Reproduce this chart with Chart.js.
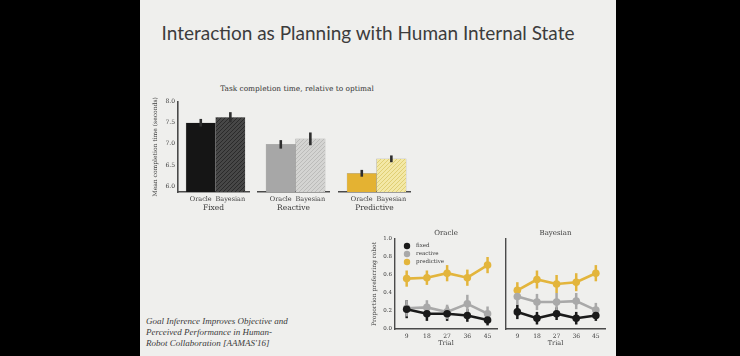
<!DOCTYPE html>
<html>
<head>
<meta charset="utf-8">
<script src="https://cdn.jsdelivr.net/npm/chart.js@4/dist/chart.umd.min.js"></script>
<style>
  html, body { margin:0; padding:0; background:#000; width:740px; height:356px; overflow:hidden; }
  #slide { position:absolute; left:140px; top:0; width:476px; height:356px; background:#efefed; }
  .abs { position:absolute; }
  #title { left:130px; width:476px; top:21px; text-align:center; font-family:'Lato', sans-serif; font-size:19px; color:#3c3c3c; white-space:nowrap; }
  #subtitle { left:180px; width:234px; top:84px; text-align:center; font-family:'DejaVu Serif', serif; font-size:7.4px; color:#333; white-space:nowrap; }
  #cite { left:146px; top:316px; font-family:'Liberation Serif', serif; font-style:italic; font-size:9px; line-height:11px; color:#3a3a3a; }
  canvas { position:absolute; }
</style>
</head>
<body>
<div id="slide"></div>
<div id="title" class="abs">Interaction as Planning with Human Internal State</div>
<div id="subtitle" class="abs">Task completion time, relative to optimal</div>
<div id="cite" class="abs">Goal Inference Improves Objective and<br>Perceived Performance in Human-<br>Robot Collaboration [AAMAS'16]</div>

<canvas id="barFixed" style="left:140px;top:95px;width:111px;height:120px" width="111" height="120"></canvas>
<canvas id="barReactive" style="left:256px;top:95px;width:75px;height:120px" width="75" height="120"></canvas>
<canvas id="barPredictive" style="left:337px;top:95px;width:75px;height:120px" width="75" height="120"></canvas>
<canvas id="lineOracle" style="left:360px;top:229px;width:141px;height:120px" width="141" height="120"></canvas>
<canvas id="lineBayesian" style="left:502px;top:229px;width:107px;height:120px" width="107" height="120"></canvas>

<script>
// ---------- DATA ----------
const barGroups = ['Fixed', 'Reactive', 'Predictive'];
const barMethods = ['Oracle', 'Bayesian'];
const fixedTimes = [7.50, 7.63];
const reactiveTimes = [6.98, 7.11];
const predictiveTimes = [6.30, 6.64];
const fixedTimeErr = [0.09, 0.12];
const reactiveTimeErr = [0.10, 0.15];
const predictiveTimeErr = [0.08, 0.08];
const timeTicks = [6.0, 6.5, 7.0, 7.5, 8.0];

const trials = [9, 18, 27, 36, 45];
const propTicks = [0.0, 0.2, 0.4, 0.6, 0.8, 1.0];
const seriesNames = ['fixed', 'reactive', 'predictive'];
const oracleFixed = [0.22, 0.17, 0.17, 0.15, 0.10];
const oracleReactive = [0.23, 0.24, 0.19, 0.28, 0.17];
const oraclePredictive = [0.56, 0.57, 0.62, 0.57, 0.71];
const oracleFixedErr = [0.10, 0.08, 0.08, 0.07, 0.06];
const oracleReactiveErr = [0.09, 0.08, 0.08, 0.10, 0.08];
const oraclePredictiveErr = [0.09, 0.08, 0.09, 0.09, 0.09];
const bayesFixed = [0.19, 0.12, 0.17, 0.12, 0.15];
const bayesReactive = [0.36, 0.30, 0.30, 0.31, 0.21];
const bayesPredictive = [0.43, 0.55, 0.50, 0.52, 0.62];
const bayesFixedErr = [0.08, 0.07, 0.07, 0.07, 0.06];
const bayesReactiveErr = [0.09, 0.09, 0.10, 0.09, 0.08];
const bayesPredictiveErr = [0.09, 0.10, 0.10, 0.10, 0.09];

// ---------- STYLE ----------
const serif = "'DejaVu Serif', serif";
const axisColor = '#4a4a4a';
const textColor = '#3a3a3a';
Chart.defaults.font.family = serif;
Chart.defaults.color = textColor;
Chart.defaults.animation = false;

function hatch(base, line) {
  const c = document.createElement('canvas');
  const n = 4;
  c.width = n; c.height = n;
  const g = c.getContext('2d');
  g.fillStyle = base; g.fillRect(0, 0, n, n);
  g.strokeStyle = line; g.lineWidth = 1;
  g.beginPath();
  g.moveTo(0, n); g.lineTo(n, 0);
  g.moveTo(-1, 1); g.lineTo(1, -1);
  g.moveTo(n - 1, n + 1); g.lineTo(n + 1, n - 1);
  g.stroke();
  return g.createPattern(c, 'repeat');
}

const barColors = {
  Fixed: ['#151515', hatch('#474747', '#2a2a2a')],
  Reactive: ['#a7a7a7', hatch('#d4d4d2', '#bcbcba')],
  Predictive: ['#e4b232', hatch('#f3e8a6', '#e0cf74')]
};

// error bar plugin: uses the chart's own scales
const errorBars = {
  id: 'errorBars',
  beforeDatasetsDraw(chart, args, opts) { if (!opts.onTop) drawErr(chart, opts); },
  afterDatasetsDraw(chart, args, opts) { if (opts.onTop) drawErr(chart, opts); }
};
function drawErr(chart, opts) {
  const ctx = chart.ctx;
  const ys = chart.scales.y;
  chart.data.datasets.forEach((ds, di) => {
    if (!ds.errors) return;
    const meta = chart.getDatasetMeta(di);
    ctx.save();
    ctx.strokeStyle = opts.color || ds.borderColor;
    ctx.lineWidth = opts.width || 2.4;
    meta.data.forEach((el, i) => {
      const v = ds.data[i].y !== undefined ? ds.data[i].y : ds.data[i];
      const e = ds.errors[i];
      ctx.beginPath();
      ctx.moveTo(el.x, ys.getPixelForValue(v - e));
      ctx.lineTo(el.x, ys.getPixelForValue(v + e));
      ctx.stroke();
    });
    ctx.restore();
  });
}

function barChart(id, group, values, errs, showY) {
  const data = values.map((v, i) => ({ x: i, y: v }));
  return new Chart(document.getElementById(id), {
    type: 'bar',
    data: {
      datasets: [{
        data: data,
        errors: errs,
        backgroundColor: barColors[group],
        borderColor: 'rgba(60,60,60,0.35)',
        borderWidth: 0.5,
        barPercentage: 1,
        categoryPercentage: 1
      }]
    },
    options: {
      responsive: false,
      layout: { padding: { top: 6, right: 2, left: showY ? 0 : 2, bottom: 0 } },
      plugins: {
        legend: { display: false }, tooltip: { enabled: false },
        errorBars: { onTop: true, color: '#2e2e2e', width: 2.6 }
      },
      scales: {
        x: {
          type: 'linear', min: -0.77, max: 1.63, offset: false, bounds: 'data',
          afterBuildTicks: s => { s.ticks = barMethods.map((m, i) => ({ value: i })); },
          afterFit: s => { s.height = 23; },
          grid: { display: false, drawTicks: false },
          border: { display: true, color: axisColor, width: 1.6 },
          ticks: { autoSkip: false, maxRotation: 0, padding: 3, font: { size: 6.5 },
                   callback: v => barMethods[v] },
          title: { display: true, text: group, font: { size: 7.5 }, padding: { top: 0, bottom: 2.5 } }
        },
        y: {
          display: showY,
          min: 5.86, max: 8.0,
          afterBuildTicks: s => { s.ticks = timeTicks.map(v => ({ value: v })); },
          afterFit: s => { s.width = showY ? 38 : 0; },
          grid: { display: false, drawTicks: false },
          border: { display: true, color: axisColor, width: 1.6 },
          ticks: { padding: 3, font: { size: 6 }, callback: v => v.toFixed(1) },
          title: { display: true, text: 'Mean completion time (seconds)', font: { size: 6 }, padding: { top: 12 } }
        }
      }
    },
    plugins: [errorBars]
  });
}

barChart('barFixed', barGroups[0], fixedTimes, fixedTimeErr, true);
barChart('barReactive', barGroups[1], reactiveTimes, reactiveTimeErr, false);
barChart('barPredictive', barGroups[2], predictiveTimes, predictiveTimeErr, false);

const lineColors = ['#1a1a1a', '#a9a9a9', '#e3b53c'];

const legendInside = {
  id: 'legendInside',
  afterDraw(chart, args, opts) {
    if (!opts.show) return;
    const ctx = chart.ctx;
    const a = chart.chartArea;
    ctx.save();
    ctx.font = "5.5px " + serif;
    ctx.textBaseline = 'middle';
    chart.data.datasets.forEach((ds, i) => {
      const x = a.left + 12, y = a.top + 7 + i * 8;
      ctx.fillStyle = ds.borderColor;
      ctx.beginPath(); ctx.arc(x, y, 3.2, 0, Math.PI * 2); ctx.fill();
      ctx.fillStyle = textColor;
      ctx.fillText(ds.label, x + 9, y);
    });
    ctx.restore();
  }
};

function lineChart(id, title, series, errs, showYLabels) {
  return new Chart(document.getElementById(id), {
    type: 'line',
    data: {
      datasets: series.map((s, i) => ({
        label: seriesNames[i],
        data: trials.map((t, j) => ({ x: t, y: s[j] })),
        errors: errs[i],
        borderColor: lineColors[i],
        backgroundColor: lineColors[i],
        borderWidth: 2.6,
        pointRadius: 3.8,
        pointBorderWidth: 0,
        tension: 0
      }))
    },
    options: {
      responsive: false,
      layout: { padding: { top: 0, right: 2, left: showYLabels ? 0 : 2, bottom: 0 } },
      plugins: {
        legend: { display: false }, tooltip: { enabled: false },
        title: { display: true, text: title, fullSize: false, color: textColor,
                 font: { size: 7, weight: 'normal', family: serif }, padding: { top: 0, bottom: 1.6 } },
        errorBars: { onTop: false, width: 2.5 },
        legendInside: { show: showYLabels }
      },
      scales: {
        x: {
          type: 'linear', min: 3.8, max: 49.2, offset: false,
          afterBuildTicks: s => { s.ticks = trials.map(v => ({ value: v })); },
          afterFit: s => { s.height = 20; },
          grid: { display: false, drawTicks: false },
          border: { display: true, color: axisColor, width: 1.4 },
          ticks: { autoSkip: false, maxRotation: 0, padding: 4, font: { size: 6 } },
          title: { display: true, text: 'Trial', font: { size: 6.5 }, padding: { top: 0, bottom: 2 } }
        },
        y: {
          min: 0, max: 1.0,
          afterBuildTicks: s => { s.ticks = propTicks.map(v => ({ value: v })); },
          afterFit: s => { s.width = showYLabels ? 35 : 0; },
          grid: { display: false, drawTicks: false },
          border: { display: true, color: axisColor, width: 1.4 },
          ticks: { display: showYLabels, padding: 3, font: { size: 5.5 }, callback: v => v.toFixed(1) },
          title: { display: showYLabels, text: 'Proportion preferring robot', font: { size: 6 }, padding: { top: 11 } }
        }
      }
    },
    plugins: [errorBars, legendInside]
  });
}

lineChart('lineOracle', 'Oracle', [oracleFixed, oracleReactive, oraclePredictive],
          [oracleFixedErr, oracleReactiveErr, oraclePredictiveErr], true);
lineChart('lineBayesian', 'Bayesian', [bayesFixed, bayesReactive, bayesPredictive],
          [bayesFixedErr, bayesReactiveErr, bayesPredictiveErr], false);
</script>
</body>
</html>
